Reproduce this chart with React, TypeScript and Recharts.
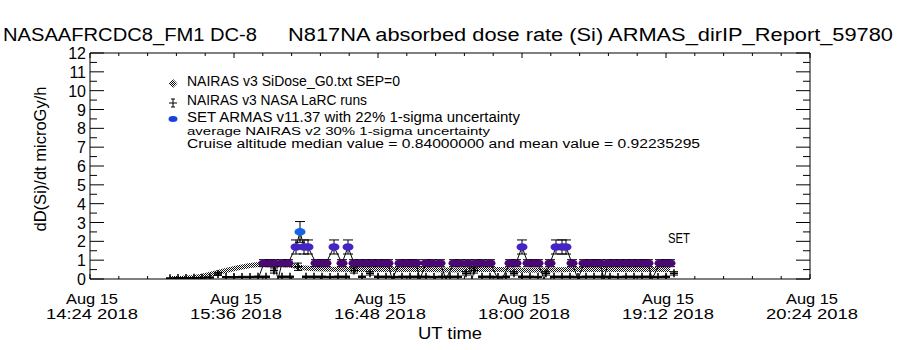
import { ComposedChart, Line, Scatter, XAxis, YAxis, ErrorBar } from "recharts"

const FONT = "'Liberation Sans', Arial, sans-serif"

// NAIRAS v3 SiDose_G0 model (UT, microGy/h)
const modelTimes = ["15:04", "15:10", "15:16", "15:20", "15:26", "15:32", "15:38", "15:44", "15:50", "15:58", "16:04", "16:10", "16:16", "16:24", "16:36", "16:48", "17:00", "17:12", "17:24", "17:36", "17:48", "18:00", "18:12", "18:24", "18:36", "18:48", "19:00", "19:08", "19:14"]
const modelValues = [0.03, 0.04, 0.08, 0.15, 0.3, 0.45, 0.6, 0.72, 0.78, 0.8, 0.74, 0.6, 0.55, 0.52, 0.5, 0.52, 0.5, 0.5, 0.48, 0.5, 0.5, 0.47, 0.48, 0.5, 0.5, 0.5, 0.52, 0.5, 0.5]

// NAIRAS v3 NASA LaRC runs
const larcTimes = ["15:04", "15:08", "15:12", "15:16", "15:20", "15:24", "15:28", "15:32", "15:36", "15:40", "15:44", "15:48", "15:52", "15:56", "16:00", "16:04", "16:08", "16:12", "16:16", "16:20", "16:24", "16:28", "16:32", "16:36", "16:40", "16:44", "16:48", "16:52", "16:56", "17:00", "17:04", "17:08", "17:12", "17:16", "17:20", "17:24", "17:28", "17:32", "17:36", "17:40", "17:44", "17:48", "17:52", "17:56", "18:00", "18:04", "18:08", "18:12", "18:16", "18:20", "18:24", "18:28", "18:32", "18:36", "18:40", "18:44", "18:48", "18:52", "18:56", "19:00", "19:04", "19:08", "19:12", "19:16"]
const larcValues = [0.04, 0.05, 0.05, 0.06, 0.07, 0.08, 0.27, 0.1, 0.1, 0.11, 0.11, 0.12, 0.12, 0.45, 0.12, 0.12, 0.65, 0.12, 0.12, 0.12, 0.11, 0.12, 0.12, 0.45, 0.12, 0.3, 0.12, 0.12, 0.11, 0.12, 0.12, 0.12, 0.12, 0.11, 0.12, 0.12, 0.12, 0.3, 0.45, 0.12, 0.12, 0.11, 0.12, 0.3, 0.12, 0.12, 0.11, 0.3, 0.12, 0.12, 0.12, 0.11, 0.12, 0.12, 0.12, 0.12, 0.11, 0.12, 0.12, 0.12, 0.12, 0.11, 0.12, 0.3]

// SET ARMAS v11.37 measurements
const armasTimes = ["15:48", "15:51", "15:54", "15:56", "15:58", "16:00", "16:03", "16:07", "16:09", "16:11", "16:13", "16:17", "16:20", "16:22", "16:26", "16:30", "16:33", "16:36", "16:39", "16:42", "16:45", "16:48", "16:51", "16:53", "16:55", "16:59", "17:02", "17:05", "17:07", "17:09", "17:12", "17:15", "17:19", "17:22", "17:26", "17:29", "17:33", "17:35", "17:37", "17:40", "17:44", "17:48", "17:50", "17:54", "17:57", "18:00", "18:03", "18:06", "18:08", "18:11", "18:14", "18:17", "18:20", "18:22", "18:25", "18:28", "18:31", "18:34", "18:37", "18:39", "18:41", "18:43", "18:46", "18:49", "18:52", "18:55", "18:58", "19:01", "19:03", "19:05", "19:09", "19:12", "19:14"]
const armasValues = [0, 0.84, 0.84, 0.84, 0, 0.84, 0.84, 1.7, 2.5, 1.7, 1.7, 0.84, 0.84, 0.84, 1.7, 0.84, 1.7, 0.84, 0.84, 0.84, 0.84, 0.84, 0.84, 0.84, 0, 0.84, 0.84, 0.84, 0.84, 0, 0.84, 0.84, 0.84, 0, 0.84, 0.84, 0.84, 0, 0.84, 0.84, 0.84, 0, 0, 0.84, 0.84, 1.7, 0.84, 0.84, 0.84, 0, 0.84, 1.7, 1.7, 1.7, 0.84, 0, 0.84, 0.84, 0.84, 0.84, 0, 0.84, 0.84, 0.84, 0.84, 0.84, 0.84, 0.84, 0.84, 0, 0.84, 0.84, 0.84]

const xTickTimes = ["14:24", "15:36", "16:48", "18:00", "19:12", "20:24"]
const xDate = "Aug 15"
const xYear = "2018"

const legendLines = [
  "NAIRAS v3 SiDose_G0.txt SEP=0",
  "NAIRAS v3 NASA LaRC runs",
  "SET ARMAS v11.37 with 22% 1-sigma uncertainty",
  "average NAIRAS v2 30% 1-sigma uncertainty",
  "Cruise altitude median value = 0.84000000 and mean value = 0.92235295",
]

const toMin = (s: string) => {
  const [h, m] = s.split(":").map(Number)
  return h * 60 + m
}

const modelData = modelTimes.map((s, i) => ({ t: toMin(s), v: modelValues[i] }))
const larcData = larcTimes.map((s, i) => ({ t: toMin(s), v: larcValues[i], e: larcValues[i] * 0.3 }))
const armasData = armasTimes.map((s, i) => ({ t: toMin(s), v: armasValues[i], e: armasValues[i] * 0.22 }))

const X0 = toMin(xTickTimes[0])
const X1 = toMin(xTickTimes[xTickTimes.length - 1])
// 5 minor intervals per major interval
const xTicks: number[] = []
for (let i = 0; i <= 25; i++) xTicks.push(X0 + (i * (X1 - X0)) / 25)
const yTicks: number[] = []
for (let i = 0; i <= 24; i++) yTicks.push(i / 2)

const armasColor = (v: number) => (v >= 2.2 ? "#1464e6" : v >= 1.4 ? "#4424c4" : "#4b0a73")

const BottomTick = ({ x, y, index }: any) => {
  const major = index % 5 === 0
  return (
    <g>
      <line x1={x} x2={x} y1={y} y2={y - (major ? 5 : 3)} stroke="#000" />
      {major && (
        <>
          <text x={x + 2} y={y + 25} textAnchor="middle" fontFamily={FONT} fontSize={14} fill="#000" textLength={52} lengthAdjust="spacingAndGlyphs">
            {xDate}
          </text>
          <text x={x + 2} y={y + 40} textAnchor="middle" fontFamily={FONT} fontSize={14} fill="#000" textLength={92} lengthAdjust="spacingAndGlyphs">
            {`${xTickTimes[index / 5]} ${xYear}`}
          </text>
        </>
      )}
    </g>
  )
}

const TopTick = ({ x, y, index }: any) => (
  <line x1={x} x2={x} y1={y} y2={y + (index % 5 === 0 ? 5 : 3)} stroke="#000" />
)

const LeftTick = ({ x, y, payload }: any) => {
  const major = Number.isInteger(payload.value)
  return (
    <g>
      <line x1={x} x2={x + (major ? 14 : 7)} y1={y} y2={y} stroke="#000" />
      {major && (
        <text x={x - 4} y={y + 6} textAnchor="end" fontFamily={FONT} fontSize={16} fill="#000">
          {payload.value}
        </text>
      )}
    </g>
  )
}

const RightTick = ({ x, y, payload }: any) => (
  <line x1={x} x2={x - (Number.isInteger(payload.value) ? 14 : 7)} y1={y} y2={y} stroke="#000" />
)

const ArmasDot = ({ cx, cy, payload }: any) => {
  if (!payload || payload.v <= 0) return <g />
  return <ellipse cx={cx} cy={cy} rx={5.5} ry={3.8} fill={armasColor(payload.v)} />
}

const NoDot = () => <g />

const PlusDot = ({ cx, cy }: any) => (
  <path d={`M${cx - 4},${cy}H${cx + 4}M${cx},${cy - 4}V${cy + 4}`} stroke="#000" strokeWidth={1.5} fill="none" />
)

export default function App() {
  return (
    <div style={{ position: "absolute", left: 0, top: 0, width: 900, height: 350, background: "#fff" }}>
      <svg width={0} height={0} style={{ position: "absolute" }}>
        <defs>
          <pattern id="dither" patternUnits="userSpaceOnUse" width={2} height={2}>
            <rect width={2} height={2} fill="#fff" />
            <rect width={1} height={1} fill="#111" />
            <rect x={1} y={1} width={1} height={1} fill="#111" />
          </pattern>
        </defs>
      </svg>
      <ComposedChart width={900} height={350} margin={{ top: 52, right: 89, bottom: 70, left: 89 }}>
        <XAxis dataKey="t" type="number" domain={[X0, X1]} ticks={xTicks} interval={0} height={1} tickSize={0} tickMargin={0} tickLine={false} tick={<BottomTick />} axisLine={{ stroke: "#000" }} allowDataOverflow />
        <XAxis xAxisId="top" orientation="top" dataKey="t" type="number" domain={[X0, X1]} ticks={xTicks} interval={0} height={1} tickSize={0} tickMargin={0} tickLine={false} tick={<TopTick />} axisLine={{ stroke: "#000" }} allowDataOverflow />
        <YAxis type="number" domain={[0, 12]} ticks={yTicks} interval={0} width={1} tickSize={0} tickMargin={0} tickLine={false} tick={<LeftTick />} axisLine={{ stroke: "#000" }} allowDataOverflow />
        <YAxis yAxisId="right" orientation="right" type="number" domain={[0, 12]} ticks={yTicks} interval={0} width={1} tickSize={0} tickMargin={0} tickLine={false} tick={<RightTick />} axisLine={{ stroke: "#000" }} allowDataOverflow />
        <Line data={modelData} dataKey="v" type="linear" stroke="url(#dither)" strokeWidth={5} dot={false} activeDot={false} isAnimationActive={false} />
        <Scatter data={larcData} dataKey="v" shape={<PlusDot />} isAnimationActive={false}>
          <ErrorBar dataKey="e" direction="y" width={4} stroke="#000" strokeWidth={1} isAnimationActive={false} />
        </Scatter>
        <Scatter data={armasData} dataKey="v" shape={<NoDot />} line={{ stroke: "#000", strokeWidth: 1 }} lineType="joint" isAnimationActive={false}>
          <ErrorBar dataKey="e" direction="y" width={5} stroke="#000" strokeWidth={1} isAnimationActive={false} />
        </Scatter>
        <Scatter data={armasData} dataKey="v" shape={<ArmasDot />} isAnimationActive={false} />
      </ComposedChart>
      <svg width={900} height={350} style={{ position: "absolute", left: 0, top: 0, pointerEvents: "none" }} fontFamily={FONT} fill="#000">
        <text x={3} y={41} fontSize={18} textLength={254} lengthAdjust="spacingAndGlyphs">NASAAFRCDC8_FM1 DC-8</text>
        <text x={288} y={41} fontSize={18} textLength={605} lengthAdjust="spacingAndGlyphs">N817NA absorbed dose rate (Si) ARMAS_dirIP_Report_59780</text>
        <text transform="translate(46,159) rotate(-90)" textAnchor="middle" fontSize={16} textLength={145} lengthAdjust="spacingAndGlyphs">dD(Si)/dt microGy/h</text>
        <text x={450} y={339} textAnchor="middle" fontSize={16} textLength={64} lengthAdjust="spacingAndGlyphs">UT time</text>

        <polygon points="173,79 177.5,83.5 173,88 168.5,83.5" fill="url(#dither)" />
        <path d="M169,103H177M173,99V107M171,99H175M171,107H175" stroke="#000" fill="none" />
        <ellipse cx={173} cy={119} rx={4.5} ry={3} fill="#1a40e0" />
        <text x={187} y={86} fontSize={15} textLength={213} lengthAdjust="spacingAndGlyphs">{legendLines[0]}</text>
        <text x={187} y={105} fontSize={15} textLength={180} lengthAdjust="spacingAndGlyphs">{legendLines[1]}</text>
        <text x={187} y={122} fontSize={14} textLength={333} lengthAdjust="spacingAndGlyphs">{legendLines[2]}</text>
        <text x={187} y={135} fontSize={10} textLength={303} lengthAdjust="spacingAndGlyphs">{legendLines[3]}</text>
        <text x={187} y={148} fontSize={12} textLength={513} lengthAdjust="spacingAndGlyphs">{legendLines[4]}</text>
        <text x={668} y={243} fontSize={14} textLength={22} lengthAdjust="spacingAndGlyphs">SET</text>
      </svg>
    </div>
  )
}
